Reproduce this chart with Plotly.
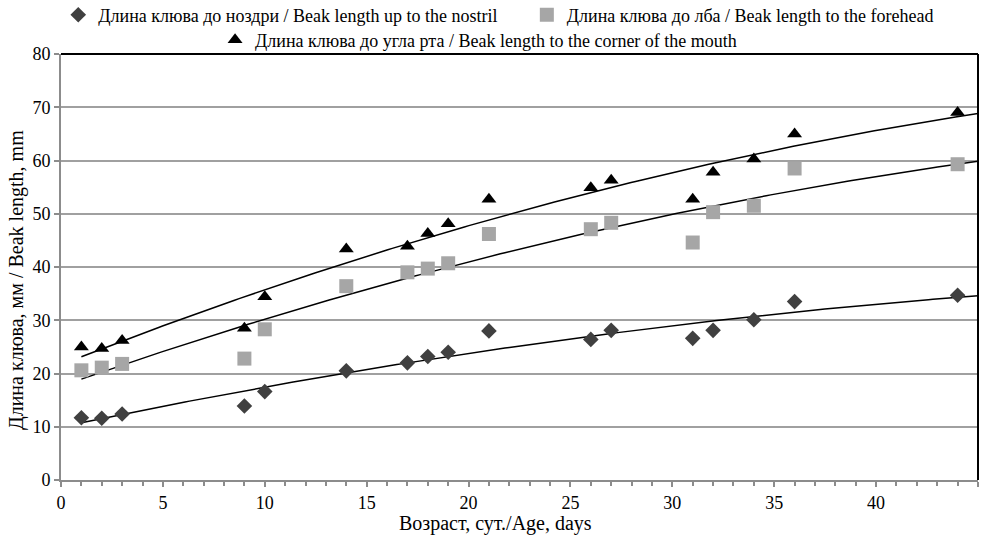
import numpy as np
import plotly.graph_objects as go

# Data
age_days = [1, 2, 3, 9, 10, 14, 17, 18, 19, 21, 26, 27, 31, 32, 34, 36, 44]
nostril = [11.7, 11.6, 12.4, 13.9, 16.6, 20.5, 22.0, 23.2, 24.0, 28.0, 26.4, 28.1, 26.6, 28.1, 30.1, 33.5, 34.7]
forehead = [20.6, 21.1, 21.8, 22.8, 28.3, 36.4, 39.0, 39.7, 40.7, 46.2, 47.1, 48.3, 44.6, 50.3, 51.5, 58.5, 59.3]
mouth = [25.0, 24.7, 26.2, 28.5, 34.4, 43.4, 43.9, 46.3, 48.1, 52.7, 54.9, 56.3, 52.7, 57.8, 60.3, 65.0, 69.0]

name_nostril = "Длина клюва до ноздри / Beak length up to the nostril"
name_forehead = "Длина клюва до лба / Beak length to the forehead"
name_mouth = "Длина клюва до угла рта / Beak length to the corner of the mouth"
x_title = "Возраст, сут./Age, days"
y_title = "Длина клюва, мм / Beak length, mm"

FONT = "Liberation Serif"

fig = go.Figure()

series = [
    (nostril, name_nostril, "diamond", "#404040", 12, "legend"),
    (forehead, name_forehead, "square", "#a6a6a6", 14, "legend2"),
    (mouth, name_mouth, "triangle-up", "#000000", 13, "legend3"),
]

xt = np.linspace(min(age_days), 45, 200)
for vals, name, sym, col, size, leg in series:
    coef = np.polyfit(age_days, vals, 2)
    fig.add_trace(go.Scatter(
        x=xt, y=np.polyval(coef, xt), mode="lines",
        line=dict(color="black", width=1.5), showlegend=False, hoverinfo="skip"))

for vals, name, sym, col, size, leg in series:
    fig.add_trace(go.Scatter(
        x=age_days, y=vals, mode="markers", name=name, legend=leg,
        marker=dict(symbol=sym, color=col, size=size, line=dict(width=0))))

def leg(x, y):
    return dict(orientation="h", x=x, xanchor="left", y=y, yanchor="middle",
                font=dict(family=FONT, size=18, color="black"), itemwidth=30,
                bgcolor="rgba(0,0,0,0)")

fig.update_layout(
    width=984, height=538,
    margin=dict(l=61, r=6, t=54, b=58, autoexpand=False),
    paper_bgcolor="white", plot_bgcolor="white",
    font=dict(family=FONT, size=18, color="black"),
    legend=leg(-0.003, 1.0915),
    legend2=leg(0.508, 1.0915),
    legend3=leg(0.168, 1.0329),
    xaxis=dict(range=[0, 45], tick0=0, dtick=5, showgrid=False, zeroline=False,
               automargin=False,
               showline=True, linecolor="#8c8c8c", linewidth=2,
               ticks="outside", ticklen=5, tickwidth=2, tickcolor="#8c8c8c",
               minor=dict(dtick=1, ticks="outside", ticklen=4, tickwidth=2, tickcolor="#8c8c8c"),
               tickfont=dict(family=FONT, size=18, color="black")),
    yaxis=dict(range=[0, 80], tick0=0, dtick=10, showgrid=True, gridcolor="#a0a0a0", gridwidth=2,
               automargin=False,
               zeroline=False, showline=True, linecolor="#8c8c8c", linewidth=2,
               ticks="outside", ticklen=5, tickwidth=2, tickcolor="#8c8c8c",
               tickfont=dict(family=FONT, size=18, color="black")),
    annotations=[
        dict(text=x_title, xref="paper", yref="paper", x=0.474, y=-0.101,
             xanchor="center", yanchor="middle", showarrow=False,
             font=dict(family=FONT, size=20, color="black")),
        dict(text=y_title, xref="paper", yref="paper", x=-0.048, y=0.4695,
             xanchor="center", yanchor="middle", showarrow=False, textangle=-90,
             font=dict(family=FONT, size=20, color="black")),
    ],
    shapes=[
        dict(type="line", xref="paper", yref="paper", x0=0, x1=1, y0=1, y1=1,
             line=dict(color="black", width=2)),
        dict(type="line", xref="paper", yref="paper", x0=1, x1=1, y0=0, y1=1,
             line=dict(color="black", width=2)),
    ],
)

fig.write_html("out.html", config={"displayModeBar": False},
               post_script="document.body.style.margin='0';")
